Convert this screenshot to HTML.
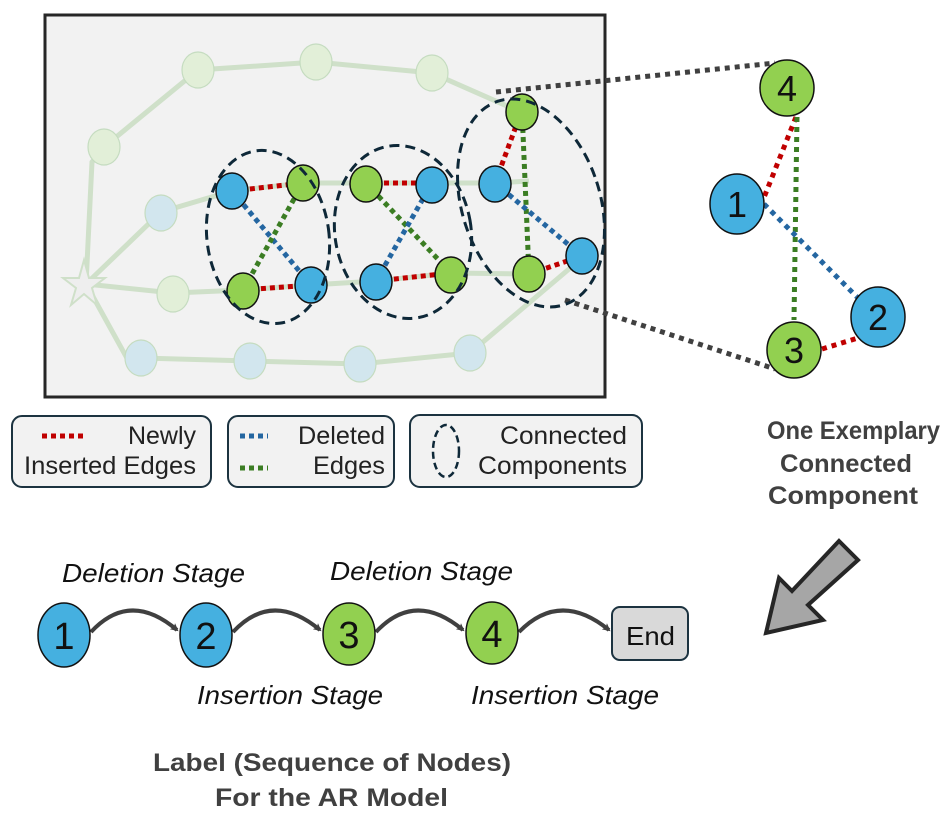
<!DOCTYPE html>
<html><head><meta charset="utf-8"><style>
body{margin:0;background:#fff;}
svg{display:block;font-family:"Liberation Sans",sans-serif;}
</style></head><body>
<svg width="946" height="830" viewBox="0 0 946 830" xmlns="http://www.w3.org/2000/svg">
<defs>
<marker id="ah" markerWidth="8" markerHeight="8" refX="6" refY="4" orient="auto" markerUnits="userSpaceOnUse"><path d="M0,0 L8,4 L0,8 L2,4 Z" fill="#404040"/></marker>
</defs>
<rect x="45" y="15" width="560" height="382" fill="#f2f2f2" stroke="#262626" stroke-width="3"/>
<g stroke="#cfe0c9" stroke-width="5" fill="none">
<polyline points="86,284 92,162 104,147 198,70 316,62 432,73 516,110"/>
<polyline points="86,284 161,212 232,191 303,183 366,183 432,183 495,183 529,181"/>
<polyline points="86,284 173,293 243,290 311,285 376,281 451,273 529,274"/>
<polyline points="86,284 128,360 141,358 250,361 360,364 470,353 582,258"/>
</g>
<g stroke="#c5dcc0" stroke-width="1.2">
<ellipse cx="198" cy="70" rx="16" ry="18" fill="#e2efd8"/>
<ellipse cx="316" cy="62" rx="16" ry="18" fill="#e2efd8"/>
<ellipse cx="432" cy="73" rx="16" ry="18" fill="#e2efd8"/>
<ellipse cx="104" cy="147" rx="16" ry="18" fill="#e2efd8"/>
<ellipse cx="173" cy="294" rx="16" ry="18" fill="#e2efd8"/>
<ellipse cx="161" cy="213" rx="16" ry="18" fill="#d2e6ee"/>
<ellipse cx="141" cy="358" rx="16" ry="18" fill="#d2e6ee"/>
<ellipse cx="250" cy="361" rx="16" ry="18" fill="#d2e6ee"/>
<ellipse cx="360" cy="364" rx="16" ry="18" fill="#d2e6ee"/>
<ellipse cx="470" cy="353" rx="16" ry="18" fill="#d2e6ee"/>
</g>
<polygon points="84,260 89,278 105,278 92,288 97,305 84,294 71,305 76,288 63,278 79,278" fill="#eeeeee" stroke="#cfe0c9" stroke-width="2"/>
<g stroke="#404040" stroke-width="5" stroke-dasharray="5,5" fill="none">
<line x1="496" y1="92" x2="775" y2="63"/>
<line x1="565" y1="300" x2="775" y2="369"/>
</g>
<g stroke-width="5" stroke-dasharray="5,4" fill="none">
<line x1="232" y1="191" x2="303" y2="183" stroke="#c00000"/>
<line x1="243" y1="290" x2="311" y2="285" stroke="#c00000"/>
<line x1="232" y1="191" x2="311" y2="285" stroke="#2466a1"/>
<line x1="303" y1="183" x2="243" y2="290" stroke="#3b7d23"/>
<line x1="366" y1="183" x2="432" y2="183" stroke="#c00000"/>
<line x1="376" y1="281" x2="451" y2="273" stroke="#c00000"/>
<line x1="366" y1="183" x2="451" y2="273" stroke="#3b7d23"/>
<line x1="432" y1="183" x2="376" y2="281" stroke="#2466a1"/>
<line x1="522" y1="110" x2="495" y2="183" stroke="#c00000"/>
<line x1="522" y1="110" x2="529" y2="274" stroke="#3b7d23"/>
<line x1="495" y1="183" x2="582" y2="256" stroke="#2466a1"/>
<line x1="529" y1="274" x2="582" y2="256" stroke="#c00000"/>
</g>
<g stroke="#111" stroke-width="1.5">
<ellipse cx="232" cy="191" rx="16" ry="18" fill="#45b0e0"/>
<ellipse cx="303" cy="183" rx="16" ry="18" fill="#92d050"/>
<ellipse cx="243" cy="291" rx="16" ry="18" fill="#92d050"/>
<ellipse cx="311" cy="285" rx="16" ry="18" fill="#45b0e0"/>
<ellipse cx="366" cy="184" rx="16" ry="18" fill="#92d050"/>
<ellipse cx="432" cy="185" rx="16" ry="18" fill="#45b0e0"/>
<ellipse cx="376" cy="282" rx="16" ry="18" fill="#45b0e0"/>
<ellipse cx="451" cy="275" rx="16" ry="18" fill="#92d050"/>
<ellipse cx="522" cy="112" rx="16" ry="18" fill="#92d050"/>
<ellipse cx="495" cy="184" rx="16" ry="18" fill="#45b0e0"/>
<ellipse cx="529" cy="274" rx="16" ry="18" fill="#92d050"/>
<ellipse cx="582" cy="256" rx="16" ry="18" fill="#45b0e0"/>
</g>
<g stroke="#0e2838" stroke-width="3" stroke-dasharray="10,6" fill="none">
<ellipse cx="268" cy="237" rx="61" ry="87" transform="rotate(-8 268 237)"/>
<ellipse cx="403" cy="232" rx="68" ry="87" transform="rotate(-10 403 232)"/>
<ellipse cx="531" cy="203" rx="69" ry="107" transform="rotate(-18 531 203)"/>
</g>
<g stroke-width="5" stroke-dasharray="5,5" fill="none">
<line x1="796" y1="117" x2="763" y2="200" stroke="#c00000"/>
<line x1="797" y1="117" x2="794" y2="320" stroke="#3b7d23"/>
<line x1="764" y1="204" x2="858" y2="298" stroke="#2466a1"/>
<line x1="822" y1="349" x2="858" y2="338" stroke="#c00000"/>
</g>
<g stroke="#111" stroke-width="1.5">
<ellipse cx="787" cy="88" rx="27" ry="28" fill="#92d050"/>
<ellipse cx="737" cy="204" rx="27" ry="30" fill="#45b0e0"/>
<ellipse cx="878" cy="317" rx="27" ry="30" fill="#45b0e0"/>
<ellipse cx="794" cy="350" rx="27" ry="28" fill="#92d050"/>
</g>
<g font-size="36" text-anchor="middle" fill="#111">
<text x="787" y="101">4</text><text x="737" y="217">1</text><text x="878" y="330">2</text><text x="794" y="363">3</text>
</g>
<g fill="#f2f2f2" stroke="#1c3340" stroke-width="2">
<rect x="12" y="416" width="199" height="71" rx="10"/>
<rect x="228" y="416" width="166" height="71" rx="10"/>
<rect x="410" y="415" width="232" height="72" rx="10"/>
</g>
<line x1="42" y1="436" x2="86" y2="436" stroke="#c00000" stroke-width="5" stroke-dasharray="5,4"/>
<line x1="240" y1="436" x2="268" y2="436" stroke="#2466a1" stroke-width="5" stroke-dasharray="5,4"/>
<line x1="240" y1="468" x2="268" y2="468" stroke="#3b7d23" stroke-width="5" stroke-dasharray="5,4"/>
<ellipse cx="446" cy="451" rx="13" ry="26" fill="none" stroke="#0e2838" stroke-width="2.5" stroke-dasharray="7,4"/>
<g font-size="25" fill="#222" lengthAdjust="spacingAndGlyphs">
<text x="128" y="444" textLength="68" lengthAdjust="spacingAndGlyphs">Newly</text>
<text x="24" y="474" textLength="172" lengthAdjust="spacingAndGlyphs">Inserted Edges</text>
<text x="298" y="444" textLength="87" lengthAdjust="spacingAndGlyphs">Deleted</text>
<text x="313" y="474" textLength="72" lengthAdjust="spacingAndGlyphs">Edges</text>
<text x="500" y="444" textLength="127" lengthAdjust="spacingAndGlyphs">Connected</text>
<text x="478" y="474" textLength="149" lengthAdjust="spacingAndGlyphs">Components</text>
</g>
<g font-size="25" font-weight="bold" fill="#404040">
<text x="767" y="439" textLength="173" lengthAdjust="spacingAndGlyphs">One Exemplary</text>
<text x="780" y="472" textLength="132" lengthAdjust="spacingAndGlyphs">Connected</text>
<text x="768" y="504" textLength="150" lengthAdjust="spacingAndGlyphs">Component</text>
</g>
<polygon points="839,541 858,560 808,605 823,620 766,633 779,578 792,591" fill="#a6a6a6" stroke="#262626" stroke-width="4"/>
<g stroke="#404040" stroke-width="4" fill="none" marker-end="url(#ah)">
<path d="M91,632 Q130,590 177,630"/>
<path d="M233,632 Q272,590 320,630"/>
<path d="M376,632 Q415,590 463,630"/>
<path d="M519,632 Q560,590 609,630"/>
</g>
<g stroke="#111" stroke-width="1.5">
<ellipse cx="64" cy="635" rx="26" ry="32" fill="#45b0e0"/>
<ellipse cx="206" cy="635" rx="26" ry="32" fill="#45b0e0"/>
<ellipse cx="349" cy="634" rx="26" ry="31" fill="#92d050"/>
<ellipse cx="492" cy="633" rx="26" ry="31" fill="#92d050"/>
</g>
<rect x="612" y="607" width="76" height="53" rx="8" fill="#d9d9d9" stroke="#1c3340" stroke-width="2"/>
<g font-size="38" text-anchor="middle" fill="#111">
<text x="64" y="649">1</text><text x="206" y="649">2</text><text x="349" y="648">3</text><text x="492" y="647">4</text>
</g>
<text x="626" y="645" font-size="26" fill="#111" textLength="49" lengthAdjust="spacingAndGlyphs">End</text>
<g font-size="26" font-style="italic" fill="#111">
<text x="62" y="582" textLength="183" lengthAdjust="spacingAndGlyphs">Deletion Stage</text>
<text x="330" y="580" textLength="183" lengthAdjust="spacingAndGlyphs">Deletion Stage</text>
<text x="197" y="704" textLength="186" lengthAdjust="spacingAndGlyphs">Insertion Stage</text>
<text x="471" y="704" textLength="188" lengthAdjust="spacingAndGlyphs">Insertion Stage</text>
</g>
<g font-size="25" font-weight="bold" fill="#404040">
<text x="153" y="771" textLength="358" lengthAdjust="spacingAndGlyphs">Label (Sequence of Nodes)</text>
<text x="215" y="806" textLength="233" lengthAdjust="spacingAndGlyphs">For the AR Model</text>
</g>
</svg>
</body></html>
